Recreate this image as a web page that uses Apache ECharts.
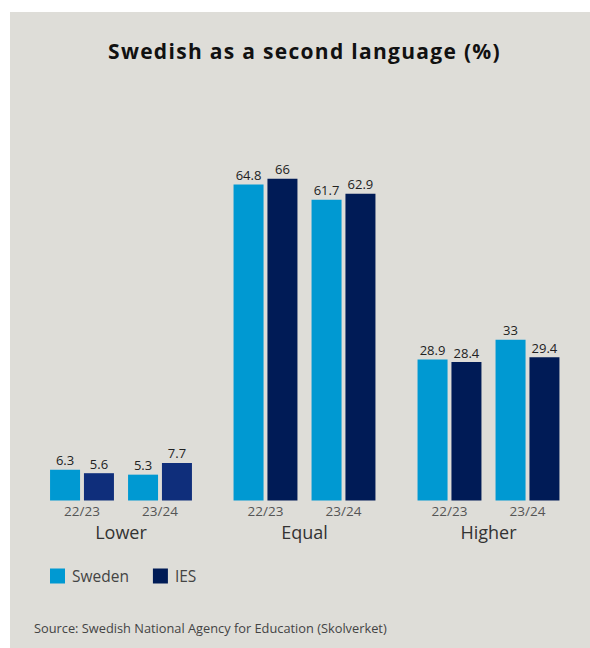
<!DOCTYPE html>
<html>
<head>
<meta charset="utf-8">
<script src="https://cdn.jsdelivr.net/npm/echarts@6/dist/echarts.min.js"></script>
<style>
  html, body { margin: 0; padding: 0; background: #ffffff; }
  #chart { position: absolute; left: 10px; top: 12px; width: 580px; height: 636px; background: #deddd8; }
</style>
</head>
<body>
<div id="chart"></div>
<script>
// Share of pupils graded lower / equal / higher on the national test, by school year
const groups = ['Lower', 'Equal', 'Higher'];
const periods = ['22/23', '23/24'];
const sweden = [[6.3, 5.3], [64.8, 61.7], [28.9, 33]];
const ies = [[5.6, 7.7], [66, 62.9], [28.4, 29.4]];

const TITLE = 'Swedish as a second language (%)';
const SOURCE = 'Source: Swedish National Agency for Education (Skolverket)';

const FONT = 'Open Sans';
const SWEDEN_COLOR = '#0099d2';
const IES_COLOR = '#001b56';
const IES_LOWER_COLOR = '#0f2e7b';

const gridLefts = [33, 216.5, 400.5];

const grids = [], xAxes = [], yAxes = [], series = [];
groups.forEach((g, i) => {
  grids.push({ left: gridLefts[i], width: 156, top: 98.5, height: 390 });
  xAxes.push({
    type: 'category', gridIndex: i, data: periods,
    axisLine: { show: false }, axisTick: { show: false },
    axisLabel: { color: '#555', fontSize: 13.5, fontFamily: FONT, margin: 3 },
    name: g, nameLocation: 'middle', nameGap: 22,
    nameTextStyle: { color: '#333', fontSize: 18, fontFamily: FONT }
  });
  yAxes.push({ type: 'value', gridIndex: i, min: 0, max: 80, show: false, splitLine: { show: false } });
  const label = { show: true, position: 'top', distance: 3, color: '#222', fontSize: 13, fontFamily: FONT };
  series.push({
    name: 'Sweden', type: 'bar', xAxisIndex: i, yAxisIndex: i, data: sweden[i],
    barWidth: 30, barGap: '13%', itemStyle: { color: SWEDEN_COLOR }, label
  });
  series.push({
    name: 'IES', type: 'bar', xAxisIndex: i, yAxisIndex: i, data: ies[i],
    barWidth: 30, barGap: '13%',
    itemStyle: { color: i === 0 ? IES_LOWER_COLOR : IES_COLOR }, label
  });
});

const chart = echarts.init(document.getElementById('chart'), null, { renderer: 'svg' });
chart.setOption({
  animation: false,
  backgroundColor: '#deddd8',
  legend: {
    data: [{ name: 'Sweden', itemStyle: { color: SWEDEN_COLOR } }, { name: 'IES', itemStyle: { color: IES_COLOR } }],
    left: 40, top: 556, padding: 0,
    icon: 'rect', itemWidth: 15, itemHeight: 15, itemGap: 24,
    textStyle: { fontFamily: FONT, fontSize: 15.5, color: '#444', padding: [0, 0, 0, 2] }
  },
  grid: grids,
  xAxis: xAxes,
  yAxis: yAxes,
  series: series,
  graphic: [{
    type: 'text', x: 294.5, y: 38.5,
    style: {
      text: TITLE, align: 'center', verticalAlign: 'middle',
      font: 'bold 21px "Open Sans"', fill: '#111'
    }
  }, {
    type: 'text', x: 24, y: 616,
    style: {
      text: SOURCE, verticalAlign: 'middle',
      font: '12.8px "Open Sans"', fill: '#444'
    }
  }]
});

// Tracked-out heading
document.querySelectorAll('#chart svg text').forEach(t => {
  if (t.textContent === TITLE) t.style.letterSpacing = '1.3px';
});
</script>
</body>
</html>
